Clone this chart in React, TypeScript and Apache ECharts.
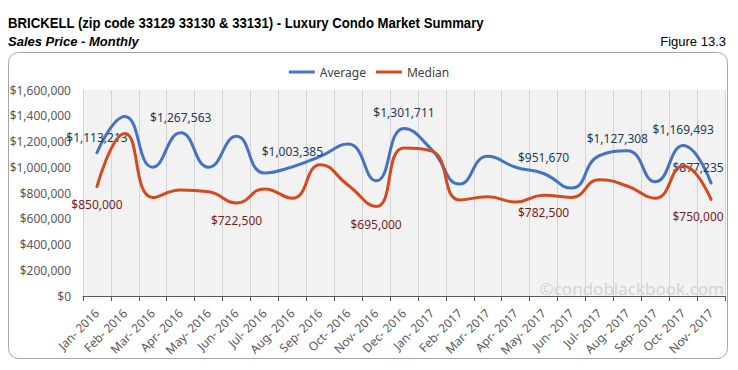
import React, { useEffect, useRef } from "react";
import * as echarts from "echarts";

const categories = [
  "Jan- 2016", "Feb- 2016", "Mar- 2016", "Apr- 2016", "May- 2016", "Jun- 2016",
  "Jul- 2016", "Aug- 2016", "Sep- 2016", "Oct- 2016", "Nov- 2016", "Dec- 2016",
  "Jan- 2017", "Feb- 2017", "Mar- 2017", "Apr- 2017", "May- 2017", "Jun- 2017",
  "Jul- 2017", "Aug- 2017", "Sep- 2017", "Oct- 2017", "Nov- 2017",
];

const average = [
  1113213, 1395000, 1000000, 1267563, 1000000, 1240000, 955000, 1003385,
  1085000, 1180000, 895000, 1301711, 1135000, 870000, 1085000, 1000000,
  951670, 838000, 1090000, 1127308, 888000, 1169493, 877235,
];

const median = [
  850000, 1262000, 765000, 823000, 810000, 722500, 832000, 759000,
  1020000, 860000, 695000, 1150000, 1125000, 746000, 770000, 730000,
  782500, 766000, 903000, 854000, 759000, 1010000, 750000,
];

// indices of points that carry a data label
const averageLabelled = [0, 3, 7, 11, 16, 19, 21, 22];
const medianLabelled = [0, 5, 10, 16, 22];

const yTicks = [0, 200000, 400000, 600000, 800000, 1000000, 1200000, 1400000, 1600000];

const money = (v: number) => "$" + Math.round(v).toLocaleString("en-US");

export default function App() {
  const ref = useRef<HTMLDivElement>(null);
  useEffect(() => {
    if (!ref.current) return;
    const chart = echarts.init(ref.current, null, { renderer: "svg" });
    const labelFont = { fontFamily: "Noto Sans", fontSize: 12 };
    const lastIdx = categories.length - 1;
    const avgData = average.map((v, i) => {
      if (!averageLabelled.includes(i)) return { value: v };
      return {
        value: v,
        label: {
          show: true,
          position: "top",
          distance: 9,
          offset: i === lastIdx ? [-13, 0] : i === 19 ? [-10, 3] : [0, 0],
          color: "#253a5a",
          ...labelFont,
          formatter: (p: any) => money(p.value),
        },
      };
    });
    const medData = median.map((v, i) => {
      if (!medianLabelled.includes(i)) return { value: v };
      return {
        value: v,
        label: {
          show: true,
          position: "bottom",
          distance: 11,
          offset: i === lastIdx ? [-13, 0] : [0, 0],
          color: "#7a1d1d",
          ...labelFont,
          formatter: (p: any) => money(p.value),
        },
      };
    });

    chart.setOption({
      animation: false,
      backgroundColor: "#ffffff",
      textStyle: { fontFamily: "Noto Sans" },
      legend: {
        top: 61,
        left: "center",
        icon: "rect",
        itemWidth: 26,
        itemHeight: 3,
        itemGap: 10,
        textStyle: { color: "#404040", fontSize: 12, fontFamily: "Noto Sans" },
        data: ["Average", "Median"],
      },
      grid: {
        left: 83,
        right: 13,
        top: 90,
        bottom: 74,
        show: true,
        backgroundColor: "#f2f2f2",
        borderWidth: 0,
      },
      xAxis: {
        type: "category",
        data: categories,
        boundaryGap: true,
        axisLine: { show: true, lineStyle: { color: "#595959", width: 1 } },
        axisTick: { show: true, length: 5, lineStyle: { color: "#595959" } },
        splitLine: { show: true, lineStyle: { color: "#d4d4d4", width: 1 } },
        axisLabel: {
          rotate: 45,
          interval: 0,
          margin: 15,
          color: "#595959",
          fontSize: 12,
          fontFamily: "Noto Sans",
        },
      },
      yAxis: {
        type: "value",
        min: yTicks[0],
        max: yTicks[yTicks.length - 1],
        interval: yTicks[1] - yTicks[0],
        axisLine: { show: false },
        axisTick: { show: false },
        splitLine: { show: false },
        axisLabel: {
          margin: 12,
          color: "#595959",
          fontSize: 12,
          fontFamily: "Noto Sans",
          formatter: (v: number) => money(v),
        },
      },
      series: [
        {
          name: "Average",
          type: "line",
          smooth: 0.5,
          data: avgData,
          symbol: "circle",
          symbolSize: 1,
          showSymbol: true,
          color: "#4472c4",
          lineStyle: { width: 3, color: "#4472c4", cap: "round" },
          itemStyle: { color: "#4472c4" },
          z: 3,
        },
        {
          name: "Median",
          type: "line",
          smooth: 0.5,
          data: medData,
          symbol: "circle",
          symbolSize: 1,
          showSymbol: true,
          color: "#d54a1c",
          lineStyle: { width: 3, color: "#d54a1c", cap: "round" },
          itemStyle: { color: "#d54a1c" },
          z: 4,
        },
      ],
      graphic: [
        {
          type: "rect",
          shape: { x: 8.5, y: 52.5, width: 719, height: 306, r: 10 },
          style: { fill: "none", stroke: "#a6a6a6", lineWidth: 1 },
          silent: true,
        },
        {
          type: "text",
          x: 8,
          y: 23,
          scaleX: 0.94,
          style: {
            text: "BRICKELL (zip code 33129 33130 & 33131) - Luxury Condo Market Summary",
            font: 'bold 14px "Liberation Sans", Arial, sans-serif',
            fill: "#000000",
            verticalAlign: "middle",
          },
        },
        {
          type: "text",
          x: 8,
          y: 41,
          style: {
            text: "Sales Price - Monthly",
            font: 'italic bold 13px "Liberation Sans", Arial, sans-serif',
            fill: "#000000",
            verticalAlign: "middle",
          },
        },
        {
          type: "text",
          x: 726,
          y: 41,
          style: {
            text: "Figure 13.3",
            font: '13px "Liberation Sans", Arial, sans-serif',
            fill: "#000000",
            align: "right",
            verticalAlign: "middle",
          },
        },
        {
          type: "text",
          x: 724,
          y: 288,
          z: 100,
          style: {
            text: "©condoblackbook.com",
            font: '17px "Noto Sans", sans-serif',
            fill: "#d4d4d4",
            align: "right",
            verticalAlign: "middle",
          },
        },
      ],
    });
    return () => chart.dispose();
  }, []);
  return (
    <div
      ref={ref}
      style={{ position: "absolute", left: 0, top: 0, width: 738, height: 370 }}
    />
  );
}
